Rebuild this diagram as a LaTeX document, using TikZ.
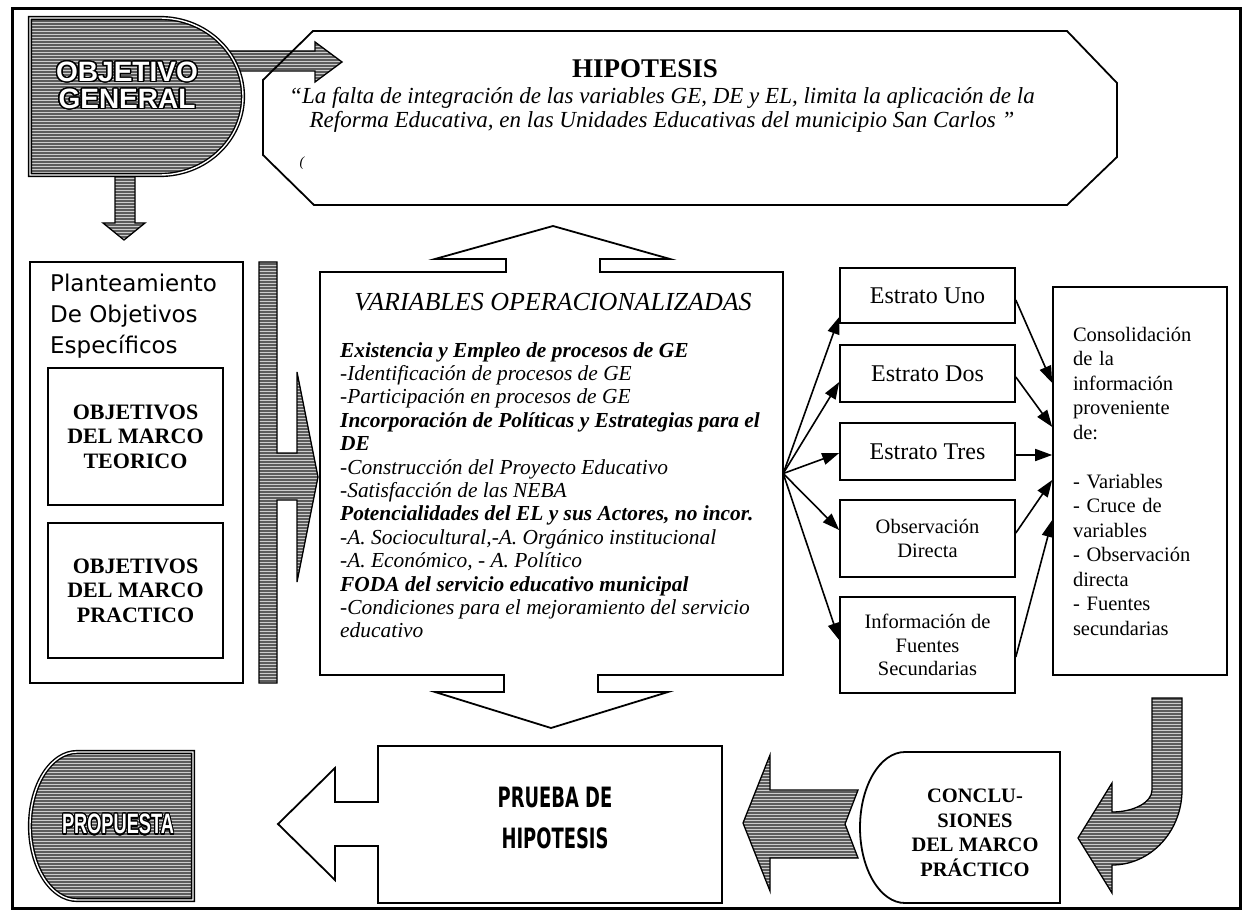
\documentclass[tikz,border=0pt]{standalone}
\usepackage{fontspec}
\usepackage{graphicx}
\setmainfont{Liberation Serif}
\newfontfamily\sansfont{DejaVu Sans}
\newfontfamily\heavyfont{Liberation Sans}
\usepackage{contour}
\contourlength{1.4pt}
\contournumber{24}
\usetikzlibrary{arrows.meta,patterns,calc}
\newcommand\fs[2]{\fontsize{#1}{#2}\selectfont}

\begin{document}
\begin{tikzpicture}[x=1pt,y=-1pt,
  texture/.style={preaction={fill=black!64}, pattern=horizontal lines,
    pattern color=white!80!black, draw=black, line width=1.3pt, line join=miter},
  badge/.style={preaction={fill=black!64}, pattern=horizontal lines,
    pattern color=white!80!black, draw=black, line width=1.4pt,
    double=white, double distance=1.4pt},
  outline/.style={draw=black, line width=1.8pt, line join=miter},
  box/.style={draw=black, line width=1.6pt, inner sep=0pt},
  link/.style={line width=1.6pt, -{Triangle[length=17pt,width=12pt]}},
]
\useasboundingbox (0,0) rectangle (1244,917);
\fill[white] (0,0) rectangle (1244,917);

% outer frame
\draw[line width=3pt] (12,9) rectangle (1240,908);

% ---------- top row ----------
% arrows leaving the general objective
\draw[texture] (225,51) -- (315,51) -- (315,42) -- (342,62) -- (315,82) -- (315,71) -- (225,71) -- cycle;
\draw[texture] (115,160) -- (135,160) -- (135,223) -- (145,223) -- (124,240) -- (103,223) -- (115,223) -- cycle;
% general objective badge
\draw[badge] (30,18) -- (160,18) arc[start angle=-90, end angle=90, x radius=83, y radius=78.5] -- (30,175) -- cycle;
\node[font=\heavyfont\bfseries\fs{28}{27}, text=white, align=center] (og) at (127,86)
  {\contour{black}{OBJETIVO}\\\contour{black}{GENERAL}};

% hypothesis panel
\draw[outline] (313,31) -- (1067,31) -- (1117,83) -- (1117,157) -- (1067,205) -- (314,205) -- (263,155) -- (263,80) -- cycle;
\node[font=\fs{27}{30}\bfseries] (htitle) at (645,69) {HIPOTESIS};
\node[font=\fs{23}{24}\itshape, align=center] (hquote) at (662,110)
  {“La falta de integración de las variables GE, DE y EL, limita la aplicación de la\\
   Reforma Educativa, en las Unidades Educativas del municipio San Carlos ”};
\node[font=\fs{14}{16}\itshape] (mark) at (302,163) {(};

% ---------- middle row ----------
% specific objectives column
\node[box, minimum width=213pt, minimum height=421pt] (plan) at (136.5,472.5) {};
\node[anchor=north west, inner sep=0pt, align=left, font=\sansfont\fs{23}{31}] (ptext) at (50,274)
  {Planteamiento\\De Objetivos\\Específicos};
\node[box, minimum width=175pt, minimum height=137pt, align=center, font=\fs{22}{24.5}\bfseries] (teor) at (135.5,436.5)
  {OBJETIVOS\\DEL MARCO\\TEORICO};
\node[box, minimum width=175pt, minimum height=135pt, align=center, font=\fs{22}{24.5}\bfseries] (prac) at (135.5,590.5)
  {OBJETIVOS\\DEL MARCO\\PRACTICO};

% bar with arrow into the variables
\draw[texture] (259,262) -- (277,262) -- (277,453) -- (297,453) -- (297,372) -- (318,477) -- (297,582) -- (297,500) -- (277,500) -- (277,683) -- (259,683) -- cycle;

% operational variables panel with hollow arrows above and below
\node[minimum width=463pt, minimum height=403pt, inner sep=0pt] (vars) at (551.5,473.5) {};
\draw[outline] (320,272) -- (506,272) -- (506,259) -- (435,259) -- (553,226) -- (670,259) -- (600,259) -- (600,272)
  -- (783,272) -- (783,675) -- (598,675) -- (598,692) -- (668,692) -- (551,728) -- (435,692) -- (504,692) -- (504,675)
  -- (320,675) -- cycle;
\node[font=\fs{26}{30}\itshape] (vtitle) at (553,302) {VARIABLES OPERACIONALIZADAS};
\node[anchor=north west, inner sep=0pt, align=left, font=\fs{21.4}{23.4}\itshape] (vbody) at (340,342)
  {\textbf{Existencia y Empleo de procesos de GE}\\
   -Identificación de procesos de GE\\
   -Participación en procesos de GE\\
   \textbf{Incorporación de Políticas y Estrategias para el}\\
   \textbf{DE}\\
   -Construcción del Proyecto Educativo\\
   -Satisfacción de las NEBA\\
   \textbf{Potencialidades del EL y sus Actores, no incor.}\\
   -A. Sociocultural,-A. Orgánico institucional\\
   -A. Económico, - A. Político\\
   \textbf{FODA del servicio educativo municipal}\\
   -Condiciones para el mejoramiento del servicio\\
   educativo};

% strata
\node[box, minimum width=175pt, minimum height=55pt, font=\fs{24}{26}] (uno) at (927.5,295.5) {Estrato Uno};
\node[box, minimum width=175pt, minimum height=57pt, font=\fs{24}{26}] (dos) at (927.5,373.5) {Estrato Dos};
\node[box, minimum width=175pt, minimum height=57pt, font=\fs{24}{26}] (tres) at (927.5,451.5) {Estrato Tres};
\node[box, minimum width=175pt, minimum height=77pt, align=center, font=\fs{20.5}{23.5}] (obs) at (927.5,538.5)
  {Observación\\Directa};
\node[box, minimum width=175pt, minimum height=96pt, align=center, font=\fs{20.5}{23.5}] (info) at (927.5,645)
  {Información de\\Fuentes\\Secundarias};

% consolidation
\node[box, minimum width=174pt, minimum height=388pt, text width=134pt, inner xsep=20pt, align=left,
  font=\fs{20.5}{24.5}] (cons) at (1140,481)
  {Consolidación\\de la\\información\\proveniente\\de:\\[24.5pt]
   - Variables\\- Cruce de\\variables\\- Observación\\directa\\- Fuentes\\secundarias};

% fan-out from the variables
\draw[link] (vars.east) -- ([yshift=-21.5pt]uno.west);
\draw[link] (vars.east) -- ([yshift=-8.5pt]dos.west);
\draw[link] (vars.east) -- ([yshift=-1.5pt]tres.west);
\draw[link] (vars.east) -- ([yshift=8.5pt]obs.west);
\draw[link] (vars.east) -- ([yshift=5pt]info.west);
% fan-in to the consolidation
\draw[link] ([yshift=-4.5pt]uno.east) -- ([yshift=98pt]cons.west);
\draw[link] ([yshift=-3.5pt]dos.east) -- ([yshift=54pt]cons.west);
\draw[link] ([yshift=-3.5pt]tres.east) -- ([yshift=26pt]cons.west);
\draw[link] ([yshift=5.5pt]obs.east) -- ([yshift=1pt]cons.west);
\draw[link] ([yshift=-12pt]info.east) -- ([yshift=-39pt]cons.west);

% ---------- bottom row ----------
% proposal badge
\draw[badge] (193,752) -- (77,752) arc[start angle=-90, end angle=-270, x radius=47, y radius=74] -- (193,900) -- cycle;
\node[font=\heavyfont\bfseries\fs{28}{28}, text=white] (prop) at (118,825)
  {\scalebox{0.65}[1]{\contour{black}{PROPUESTA}}};

% hypothesis test box with hollow arrow to the left
\draw[outline] (378,746) -- (722,746) -- (722,903) -- (378,903) -- (378,846) -- (335,846) -- (335,880) -- (278,824)
  -- (335,768) -- (335,802) -- (378,802) -- cycle;
\node[font=\sansfont\bfseries\fs{28}{41}, align=center] (prueba) at (555,818)
  {\scalebox{0.64}[1]{PRUEBA DE}\\\scalebox{0.64}[1]{HIPOTESIS}};

% notched arrow from the conclusions
\draw[texture] (743,823) -- (770,755) -- (770,790) -- (858,790) -- (845,824) -- (858,858) -- (770,858) -- (770,891) -- cycle;

% conclusions
\draw[outline] (1060,752) -- (905,752) arc[start angle=-90, end angle=-270, x radius=45, y radius=75.5] -- (1060,903) -- cycle;
\node[font=\fs{20.5}{24.5}\bfseries, align=center] (concl) at (975,833)
  {CONCLU-\\SIONES\\DEL MARCO\\PRÁCTICO};

% curved arrow from the consolidation down to the conclusions
\draw[texture] (1152,698) -- (1182,698) -- (1182,790) arc[start angle=0, end angle=90, x radius=70, y radius=75]
  -- (1112,893) -- (1078,838) -- (1112,783) -- (1112,812) arc[start angle=90, end angle=0, x radius=40, y radius=22]
  -- cycle;
\end{tikzpicture}
\end{document}
